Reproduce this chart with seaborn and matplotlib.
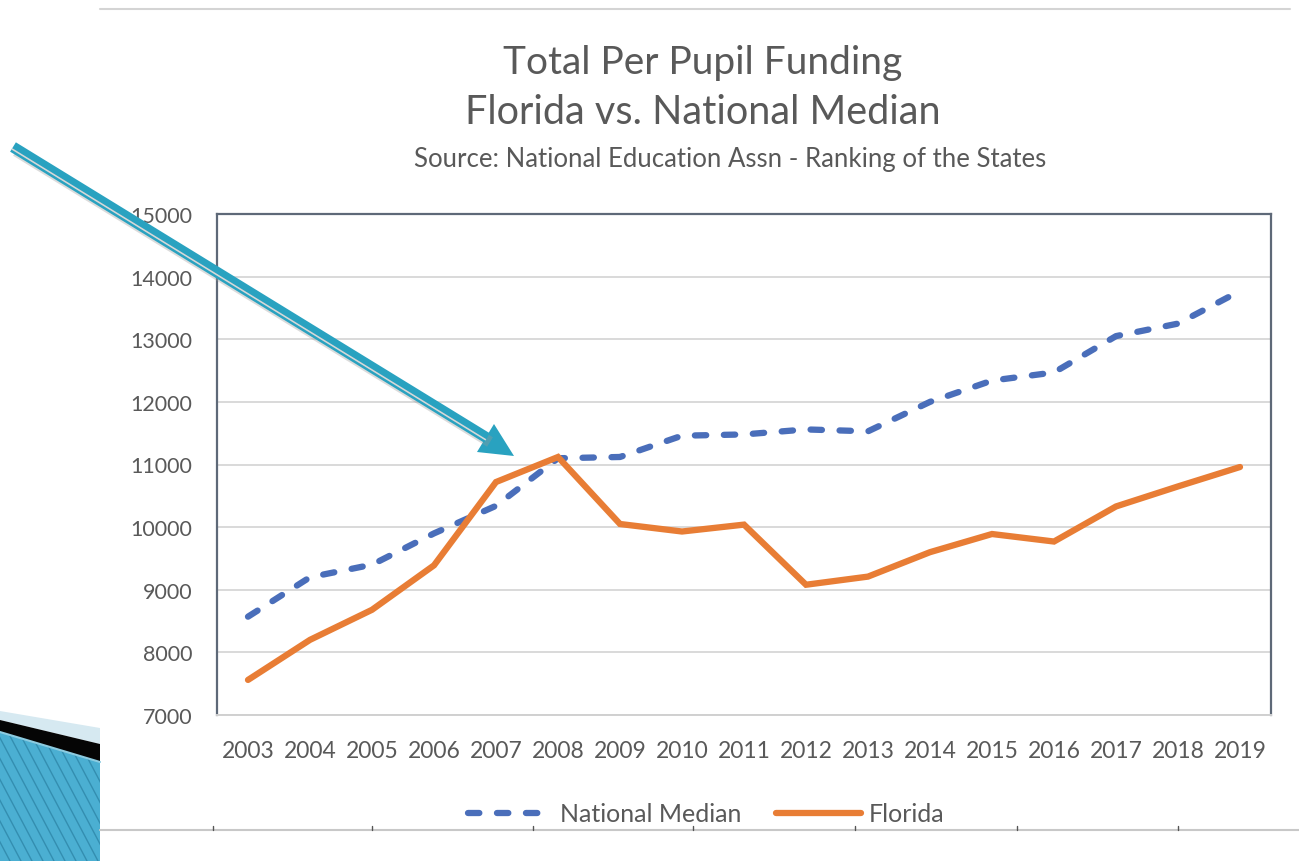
import numpy as np
import pandas as pd
import matplotlib
matplotlib.use("Agg")
import matplotlib.pyplot as plt
from matplotlib.patches import Polygon
import seaborn as sns

# Data
years = list(range(2003, 2020))
national_median = [8570, 9200, 9400, 9900, 10340, 11100, 11120, 11460, 11480,
                   11560, 11530, 12000, 12340, 12470, 13050, 13250, 13770]
florida = [7560, 8200, 8680, 9390, 10720, 11120, 10050, 9930, 10040,
           9080, 9210, 9600, 9890, 9770, 10330, 10650, 10960]
y_ticks = list(range(7000, 15001, 1000))

df = pd.DataFrame({
    "year": years * 2,
    "funding": national_median + florida,
    "series": ["National Median"] * len(years) + ["Florida"] * len(years),
})

BLUE = "#4A6EBA"
ORANGE = "#E87D35"
TEXT = "#595959"
W, H = 1299, 862

sns.set_theme(style="white")
plt.rcParams["font.family"] = ["Lato", "DejaVu Sans"]

fig = plt.figure(figsize=(W / 100, H / 100), dpi=100)
fig.patch.set_facecolor("white")

# plot area in pixel terms
left, right, top, bottom = 217, 1271, 215, 716
ax = fig.add_axes([left / W, 1 - bottom / H, (right - left) / W, (bottom - top) / H])

lw = 6.3 * 0.72
sns.lineplot(data=df[df.series == "National Median"], x="year", y="funding",
             color=BLUE, linewidth=lw, ax=ax, label="National Median")
sns.lineplot(data=df[df.series == "Florida"], x="year", y="funding",
             color=ORANGE, linewidth=lw, ax=ax, label="Florida")
nat_line, fl_line = ax.lines[0], ax.lines[1]
nat_line.set_dashes((1.8, 2.8))
nat_line.set_dash_capstyle("round")
fl_line.set_solid_capstyle("round")
fl_line.set_solid_joinstyle("miter")

ax.set_xlim(2002.5, 2019.5)
ax.set_ylim(7000, 15000)
ax.set_xticks(years)
ax.set_yticks(y_ticks)
ax.set_xlabel("")
ax.set_ylabel("")
ax.tick_params(axis="both", length=0, colors=TEXT)
ax.tick_params(axis="y", pad=18, labelsize=15.5)
ax.tick_params(axis="x", pad=18, labelsize=16.5)
ax.grid(axis="y", color="#D9D9D9", linewidth=1.4)
ax.set_axisbelow(True)
for side in ["left", "top", "right"]:
    ax.spines[side].set_color("#5E6978")
    ax.spines[side].set_linewidth(1.6)
ax.spines["bottom"].set_color("#D0D0D0")
ax.spines["bottom"].set_linewidth(1.4)
ax.legend_.remove()

# titles
fig.text(703 / W, 1 - 63 / H, "Total Per Pupil Funding", ha="center", va="center",
         fontsize=28, color=TEXT)
fig.text(703 / W, 1 - 113 / H, "Florida vs. National Median", ha="center", va="center",
         fontsize=28.5, color=TEXT)
fig.text(730 / W, 1 - 160 / H, "Source: National Education Assn - Ranking of the States",
         ha="center", va="center", fontsize=18.5, color=TEXT)

leg = fig.legend([nat_line, fl_line], ["National Median", "Florida"],
                 loc="center", bbox_to_anchor=(706 / W, 1 - 815 / H), ncol=2,
                 frameon=False, fontsize=18, handlelength=3.4, handletextpad=0.3,
                 columnspacing=1.4, labelcolor=TEXT)

# overlay in pixel coordinates for slide decorations
ov = fig.add_axes([0, 0, 1, 1], zorder=10)
ov.set_xlim(0, W)
ov.set_ylim(H, 0)
ov.axis("off")
ov.patch.set_alpha(0)

# slide frame lines
ov.plot([100, 1290], [10, 10], color="#D4D4D4", linewidth=1.5)
ov.plot([100, W], [831, 831], color="#C8C8C8", linewidth=1.5)
for tx in [213, 372, 533, 693, 855, 1017, 1178]:
    ov.plot([tx, tx], [827, 831], color="#555555", linewidth=1.0)

# bottom-left striped shape
ov.add_patch(Polygon([(0, 712), (100, 729), (100, 745), (0, 721)], closed=True,
                     facecolor="#D6E9F1", edgecolor="none"))
ov.add_patch(Polygon([(0, 721), (100, 745), (100, 763), (0, 733)], closed=True,
                     facecolor="#050505", edgecolor="none"))
blue_poly = Polygon([(0, 733), (100, 763), (100, H), (0, H)], closed=True,
                    facecolor="#4BAFD2", edgecolor="none")
ov.add_patch(blue_poly)
for x0 in np.arange(-120, 110, 11):
    stripe, = ov.plot([x0, x0 + 75], [720, H], color="#2E86A8", linewidth=1.0, alpha=0.8)
    stripe.set_clip_path(blue_poly)
ov.plot([0, 100], [733, 763], color="#8CCBE0", linewidth=1.5)

# annotation arrow
TEAL = "#29A2C0"
x1, y1, x2, y2 = 13, 148, 487, 439
d = np.array([x2 - x1, y2 - y1], dtype=float)
d /= np.hypot(*d)
perp = np.array([-d[1], d[0]])
ov.plot([x1 + 3, x2 + 3], [y1 + 4, y2 + 4], color="#9A9A9A", linewidth=8, alpha=0.35,
        solid_capstyle="butt")
ov.plot([x1, x2], [y1, y2], color=TEAL, linewidth=11 * 0.72, solid_capstyle="butt")
off = perp * 2.2
ov.plot([x1 + off[0], x2 + off[0]], [y1 + off[1], y2 + off[1]], color="#D8D8D8",
        linewidth=1.6 * 0.72, solid_capstyle="butt")
ov.add_patch(Polygon([(477, 453), (494, 425), (514, 457)], closed=True,
                     facecolor=TEAL, edgecolor="none"))

fig.savefig("out.png", dpi=100, facecolor="white")
